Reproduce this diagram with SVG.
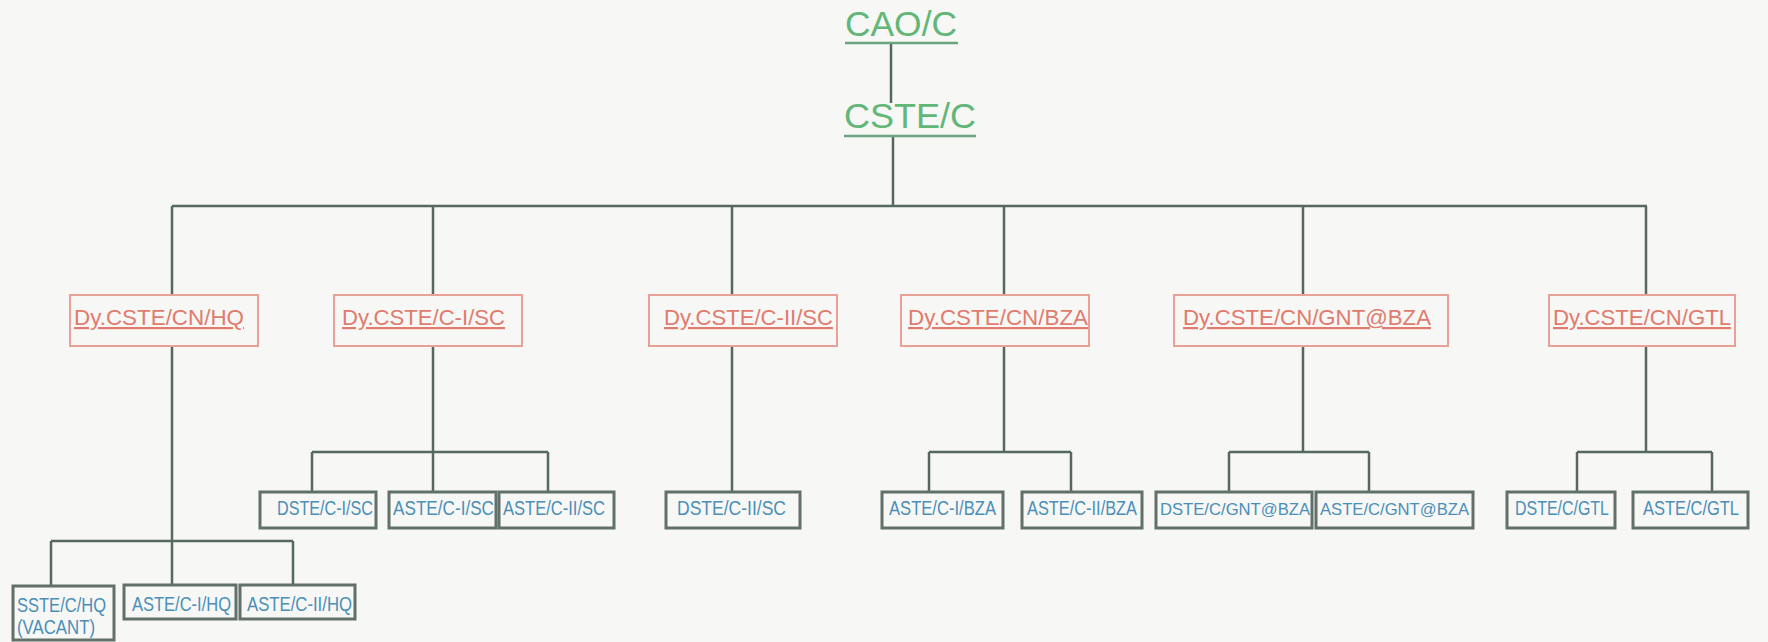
<svg xmlns="http://www.w3.org/2000/svg" width="1768" height="642" viewBox="0 0 1768 642">
<style>
.bg{fill:#f7f7f5}
.title{font-family:"Liberation Sans",Arial,sans-serif;font-size:35px;fill:#62b677}
.tline{stroke:#6aa57d;stroke-width:2.5}
.dy rect{fill:none;stroke:#e9a096;stroke-width:2}
.dy text{font-family:"Liberation Sans",Arial,sans-serif;font-size:22px;fill:#e07b6e;text-decoration:underline}
.sm rect{fill:none;stroke:#617068;stroke-width:3}
.sm text{font-family:"Liberation Sans",Arial,sans-serif;font-size:20px;fill:#4b8fb8}
.sm text.fit{font-size:16.5px}
.conn path{fill:none;stroke:#56695f;stroke-width:2.5}
</style>
<rect class="bg" x="0" y="0" width="1768" height="642"/>
<g id="connectors" class="conn">
<path d="M891,43 V103"/>
<path d="M893,136 V206"/>
<path d="M172,206 H1647"/>
<path d="M172,206 V295 M433,206 V295 M732,206 V295 M1004,206 V295 M1303,206 V295 M1646,206 V295"/>
<path d="M172,346 V541 M51,541 H293 M51,541 V586 M172,541 V585 M293,541 V585"/>
<path d="M433,346 V452 M312,452 H548 M312,452 V492 M433,452 V492 M548,452 V492"/>
<path d="M732,346 V492"/>
<path d="M1004,346 V452 M929,452 H1071 M929,452 V492 M1071,452 V492"/>
<path d="M1303,346 V452 M1229,452 H1369 M1229,452 V492 M1369,452 V492"/>
<path d="M1646,346 V452 M1577,452 H1712 M1577,452 V492 M1712,452 V492"/>
</g>
<g id="cao">
<text class="title" x="845" y="36" textLength="112" lengthAdjust="spacingAndGlyphs">CAO/C</text>
<line class="tline" x1="845" y1="43" x2="958" y2="43"/>
</g>
<g id="cste">
<text class="title" x="844" y="128" textLength="132" lengthAdjust="spacingAndGlyphs">CSTE/C</text>
<line class="tline" x1="844" y1="136" x2="976" y2="136"/>
</g>
<g id="dy-hq" class="dy"><rect x="70" y="295" width="188" height="51"/><text x="74" y="325" textLength="170" lengthAdjust="spacingAndGlyphs">Dy.CSTE/CN/HQ</text></g>
<g id="dy-c1sc" class="dy"><rect x="334" y="295" width="188" height="51"/><text x="342" y="325" textLength="163" lengthAdjust="spacingAndGlyphs">Dy.CSTE/C-I/SC</text></g>
<g id="dy-c2sc" class="dy"><rect x="649" y="295" width="188" height="51"/><text x="664" y="325" textLength="169" lengthAdjust="spacingAndGlyphs">Dy.CSTE/C-II/SC</text></g>
<g id="dy-bza" class="dy"><rect x="901" y="295" width="188" height="51"/><text x="908" y="325" textLength="180" lengthAdjust="spacingAndGlyphs">Dy.CSTE/CN/BZA</text></g>
<g id="dy-gnt" class="dy"><rect x="1174" y="295" width="274" height="51"/><text x="1183" y="325" textLength="248" lengthAdjust="spacingAndGlyphs">Dy.CSTE/CN/GNT@BZA</text></g>
<g id="dy-gtl" class="dy"><rect x="1549" y="295" width="186" height="51"/><text x="1553" y="325" textLength="178" lengthAdjust="spacingAndGlyphs">Dy.CSTE/CN/GTL</text></g>
<g id="sste-hq" class="sm"><rect x="13" y="586" width="101" height="54"/><text x="17" y="612" textLength="89" lengthAdjust="spacingAndGlyphs">SSTE/C/HQ</text><text x="17" y="634" textLength="78" lengthAdjust="spacingAndGlyphs">(VACANT)</text></g>
<g id="aste-c1hq" class="sm"><rect x="124" y="585" width="112" height="34"/><text x="132" y="611" textLength="99" lengthAdjust="spacingAndGlyphs">ASTE/C-I/HQ</text></g>
<g id="aste-c2hq" class="sm"><rect x="240" y="585" width="115" height="34"/><text x="247" y="611" textLength="105" lengthAdjust="spacingAndGlyphs">ASTE/C-II/HQ</text></g>
<g id="dste-c1sc" class="sm"><rect x="260" y="492" width="116" height="36"/><text x="277" y="515" textLength="96" lengthAdjust="spacingAndGlyphs">DSTE/C-I/SC</text></g>
<g id="aste-c1sc" class="sm"><rect x="389" y="492" width="107" height="36"/><text x="393" y="515" textLength="101" lengthAdjust="spacingAndGlyphs">ASTE/C-I/SC</text></g>
<g id="aste-c2sc" class="sm"><rect x="499" y="492" width="115" height="36"/><text x="503" y="515" textLength="102" lengthAdjust="spacingAndGlyphs">ASTE/C-II/SC</text></g>
<g id="dste-c2sc" class="sm"><rect x="666" y="492" width="134" height="36"/><text x="677" y="515" textLength="109" lengthAdjust="spacingAndGlyphs">DSTE/C-II/SC</text></g>
<g id="aste-c1bza" class="sm"><rect x="882" y="492" width="121" height="36"/><text x="889" y="515" textLength="107" lengthAdjust="spacingAndGlyphs">ASTE/C-I/BZA</text></g>
<g id="aste-c2bza" class="sm"><rect x="1022" y="492" width="120" height="36"/><text x="1027" y="515" textLength="110" lengthAdjust="spacingAndGlyphs">ASTE/C-II/BZA</text></g>
<g id="dste-gnt" class="sm"><rect x="1156" y="492" width="156" height="36"/><text class="fit" x="1160" y="515" textLength="150" lengthAdjust="spacingAndGlyphs">DSTE/C/GNT@BZA</text></g>
<g id="aste-gnt" class="sm"><rect x="1316" y="492" width="157" height="36"/><text class="fit" x="1320" y="515" textLength="149" lengthAdjust="spacingAndGlyphs">ASTE/C/GNT@BZA</text></g>
<g id="dste-gtl" class="sm"><rect x="1507" y="492" width="108" height="36"/><text x="1515" y="515" textLength="94" lengthAdjust="spacingAndGlyphs">DSTE/C/GTL</text></g>
<g id="aste-gtl" class="sm"><rect x="1633" y="492" width="115" height="36"/><text x="1643" y="515" textLength="96" lengthAdjust="spacingAndGlyphs">ASTE/C/GTL</text></g>
</svg>
